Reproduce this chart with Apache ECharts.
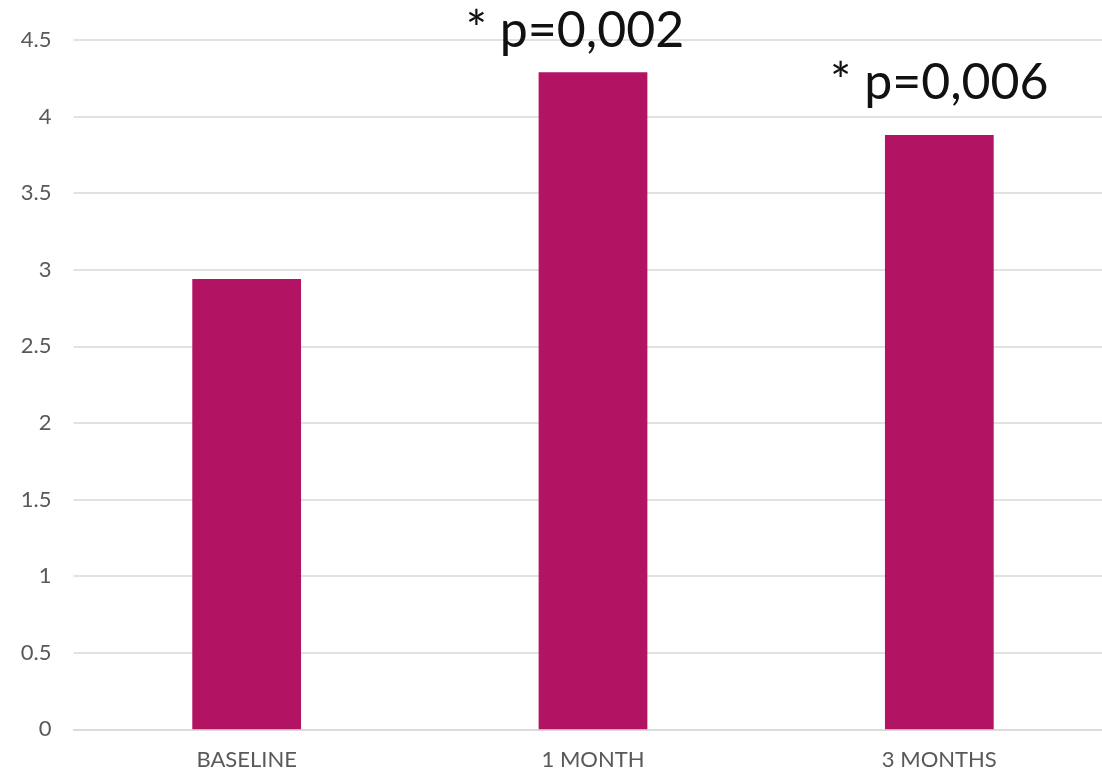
<!DOCTYPE html>
<html>
<head>
<meta charset="utf-8">
<style>
  html, body { margin: 0; padding: 0; background: #ffffff; }
  #chart { width: 1102px; height: 772px; }
</style>
<script src="https://cdn.jsdelivr.net/npm/echarts@6/dist/echarts.min.js"></script>
</head>
<body>
<div id="chart"></div>
<script>
// Time points and mean scores
const categories = ['BASELINE', '1 MONTH', '3 MONTHS'];
const values = [2.94, 4.29, 3.88];
// Significance notes shown above the bars (empty = none)
const notes = ['', '* p=0,002', '* p=0,006'];
const yMin = 0;
const yMax = 4.5;
const yStep = 0.5;

const barColor = '#b21363';
const gridColor = '#d9d9d9';
const textColor = '#595959';

// Per-bar label nudges for the significance notes
const noteOffsets = [[0, 0], [-18, 11], [0, 0]];

const seriesData = values.map((v, i) => ({
  value: v,
  label: {
    show: notes[i] !== '',
    formatter: notes[i],
    offset: noteOffsets[i]
  }
}));

const chart = echarts.init(document.getElementById('chart'), null, { renderer: 'canvas' });
chart.setOption({
  animation: false,
  backgroundColor: '#ffffff',
  // plot area runs slightly past the right edge of the canvas
  grid: {
    left: 73.5, right: -10.5, top: 40, bottom: 42.7,
    containLabel: false,
    outerBoundsMode: 'none'
  },
  xAxis: {
    type: 'category',
    data: categories,
    axisLine: { show: true, lineStyle: { color: gridColor, width: 1.5 } },
    axisTick: { show: false },
    axisLabel: {
      color: textColor,
      fontFamily: 'Lato',
      fontSize: 22,
      margin: 20
    }
  },
  yAxis: {
    type: 'value',
    min: yMin,
    max: yMax,
    interval: yStep,
    axisLine: { show: false },
    axisTick: { show: false },
    splitLine: { lineStyle: { color: gridColor, width: 1.5 } },
    axisLabel: {
      color: textColor,
      fontFamily: 'Lato',
      fontSize: 22,
      margin: 22
    }
  },
  series: [{
    type: 'bar',
    data: seriesData,
    barWidth: '31.4%',
    itemStyle: { color: barColor },
    label: {
      position: 'top',
      distance: 27,
      color: '#111111',
      fontFamily: 'Lato',
      fontSize: 50
    }
  }]
});
</script>
</body>
</html>
